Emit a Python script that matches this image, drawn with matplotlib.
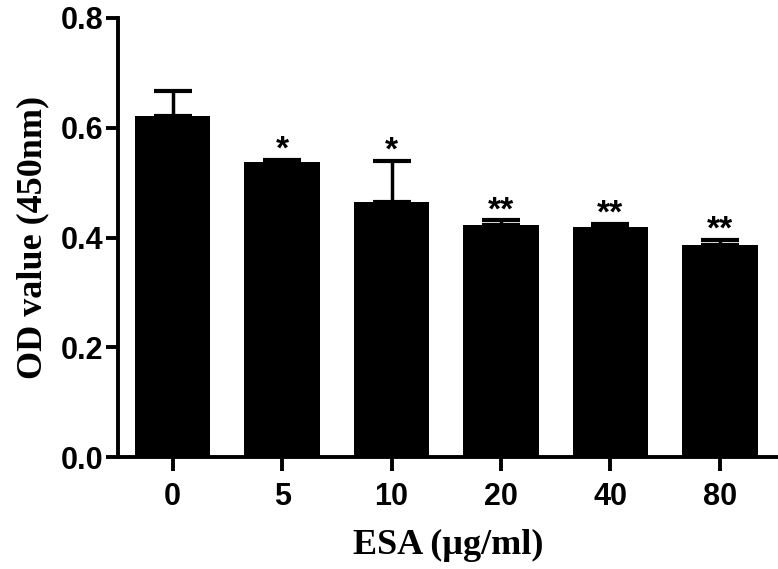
import numpy as np
import matplotlib
matplotlib.use('Agg')
from matplotlib import pyplot as plt

# values
doses = ['0', '5', '10', '20', '40', '80']
od_mean = [0.621, 0.538, 0.465, 0.423, 0.419, 0.387]
od_err = [0.046, 0.004, 0.075, 0.008, 0.006, 0.008]
stars = ['', '*', '*', '**', '**', '**']

fig = plt.figure(figsize=(7.78, 5.69), dpi=100)
ax = fig.add_axes([0.1517, 0.1968, 0.848, 0.7716])

x = np.arange(len(doses))
ax.bar(x, od_mean, width=0.69, color='black', edgecolor='none', zorder=2)
ax.errorbar(x, od_mean, yerr=[np.zeros(len(x)), od_err], fmt='none',
            ecolor='black', elinewidth=2.5, capsize=13.5, capthick=3, zorder=1)

for xi, m, e, s in zip(x, od_mean, od_err, stars):
    if s:
        ax.text(xi, m + e + 0.018, s, ha='center', va='center',
                fontsize=24, fontweight='bold', family='Liberation Sans')

ax.set_xlim(-0.5, 5.53)
ax.set_ylim(0, 0.8)
ax.set_yticks([0.0, 0.2, 0.4, 0.6, 0.8])
ax.set_yticklabels(['0.0', '0.2', '0.4', '0.6', '0.8'])
ax.set_xticks(x)
ax.set_xticklabels(doses)

for side in ['top', 'right']:
    ax.spines[side].set_visible(False)
for side in ['left', 'bottom']:
    ax.spines[side].set_linewidth(2.8)

ax.tick_params(axis='y', length=8.5, width=2.8, pad=2)
ax.tick_params(axis='x', length=10, width=2.8, pad=8)
for lab in ax.get_xticklabels() + ax.get_yticklabels():
    lab.set_fontsize(22)
    lab.set_fontweight('bold')
    lab.set_family('Liberation Sans')

ax.set_xlabel('ESA (\u00b5g/ml)', fontsize=26, fontweight='bold',
              family='Liberation Serif', labelpad=12)
ax.set_ylabel('OD value (450nm)', fontsize=26, fontweight='bold',
              family='Liberation Serif', labelpad=8)

fig.savefig('out.png', dpi=100)
